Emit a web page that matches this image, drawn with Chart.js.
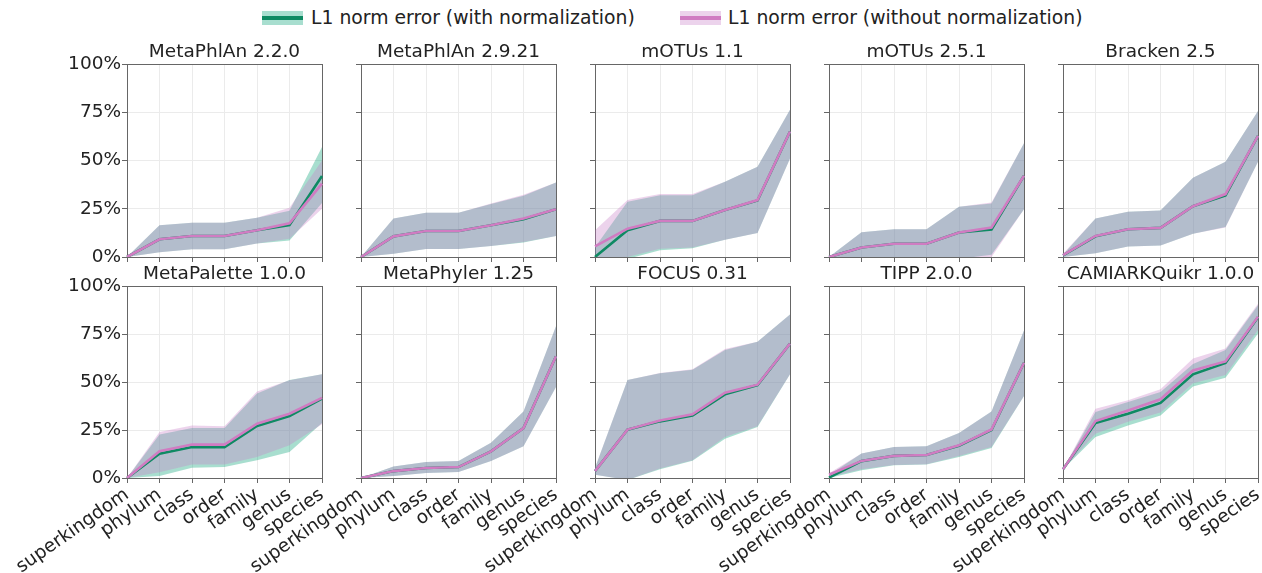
<!DOCTYPE html>
<html>
<head>
<meta charset="utf-8">
<script src="https://cdn.jsdelivr.net/npm/chart.js@4.4.0/dist/chart.umd.min.js"></script>
<style>
  html, body { margin: 0; padding: 0; background: #fff; }
  body { width: 1262px; height: 573px; position: relative; overflow: hidden; font-family: 'DejaVu Sans', sans-serif; color: #222; }
  canvas { position: absolute; }
  .swatch { position: absolute; width: 41px; height: 14px; }
  .swatch i { position: absolute; left: 0; right: 0; top: 5px; height: 4px; }
  .ltext { position: absolute; font-size: 18.8px; line-height: 22px; white-space: nowrap; }
</style>
</head>
<body>
<div class="swatch" style="left:262px;top:11px;background:rgba(0,158,115,0.34)"><i style="background:#0f8a63"></i></div>
<div class="ltext" style="left:311px;top:7px">L1 norm error (with normalization)</div>
<div class="swatch" style="left:680px;top:11px;background:rgba(200,125,200,0.34)"><i style="background:#d07cc2"></i></div>
<div class="ltext" style="left:728px;top:7px">L1 norm error (without normalization)</div>

<script>
const ranks = ['superkingdom', 'phylum', 'class', 'order', 'family', 'genus', 'species'];
const tools = ['MetaPhlAn 2.2.0', 'MetaPhlAn 2.9.21', 'mOTUs 1.1', 'mOTUs 2.5.1', 'Bracken 2.5',
               'MetaPalette 1.0.0', 'MetaPhyler 1.25', 'FOCUS 0.31', 'TIPP 2.0.0', 'CAMIARKQuikr 1.0.0'];
const yTicks = [0, 25, 50, 75, 100];

// with normalization (percent)
const normMean = [
  [0, 9.2, 10.9, 10.9, 13.9, 16.5, 42],
  [0, 10.7, 13.5, 13.5, 16.5, 19.6, 24.8],
  [0, 13.9, 18.7, 18.7, 24.3, 29.3, 65],
  [0, 4.9, 6.9, 6.9, 12.7, 14.2, 42.1],
  [0.8, 10.7, 14.4, 15.1, 26.3, 31.9, 62.7],
  [0, 12.7, 16.1, 16, 27.1, 32.3, 41.3],
  [0, 3.6, 5.2, 5.7, 13.9, 26, 63.4],
  [3.6, 25.2, 29.5, 32.6, 43.6, 48.4, 70],
  [0.2, 8.8, 11.5, 12, 16.8, 25, 60],
  [4.5, 28.7, 33.5, 39.1, 54, 59.9, 83.7]
];
const normLow = [
  [0, 2.5, 4, 4, 7, 8.5, 28],
  [0, 1.7, 4.2, 4.2, 5.7, 7.5, 10.9],
  [-5, -1, 3.5, 4.5, 9, 12.5, 51],
  [0, -3, -1, -1, -1, 1.2, 24.8],
  [0, 2, 5.5, 6, 12, 15.6, 49.4],
  [0, 1, 5.4, 5.7, 9.2, 13.5, 28.6],
  [0, 1, 2.6, 3.1, 8.9, 16.5, 47.4],
  [1.7, -1, 4.5, 9, 20.5, 26.5, 54],
  [0, 4, 6.6, 7, 11, 15.6, 42.7],
  [4.5, 21.4, 27.4, 32.6, 47.6, 52.2, 75.3]
];
const normHigh = [
  [0, 16.5, 17.7, 17.7, 20.3, 24, 57],
  [0, 19.9, 22.9, 22.9, 27.5, 31.8, 38.6],
  [5, 28.6, 32, 32, 39, 46.8, 76.3],
  [0, 12.8, 14.4, 14.4, 26, 27.7, 58.9],
  [1.2, 19.9, 23.4, 24.1, 41, 49.4, 75.7],
  [0, 22.6, 26, 26, 44, 51, 54],
  [0, 6, 8.3, 8.9, 18.4, 34.7, 79],
  [5.2, 51, 54.5, 56.4, 66.7, 71, 85.2],
  [1.5, 12.7, 16.1, 16.5, 23.4, 34.7, 76.8],
  [4.5, 34.4, 39.6, 44.8, 59.4, 66.7, 90]
];

// without normalization (percent)
const rawMean = [
  [0, 9.2, 10.9, 10.9, 13.9, 17.5, 38],
  [0, 10.7, 13.5, 13.5, 16.5, 19.9, 24.8],
  [5.5, 14.7, 18.7, 18.7, 24.3, 29.5, 65],
  [0, 4.9, 6.9, 6.9, 12.7, 15.3, 42.1],
  [1, 10.9, 14.4, 15.1, 26.3, 32.6, 62.7],
  [0, 13.9, 17.4, 17.4, 28.3, 33.5, 41.7],
  [0, 3.6, 5.2, 5.7, 13.9, 26, 63.4],
  [3.6, 25.2, 30, 33.2, 44.4, 48.6, 70],
  [1.7, 8.9, 11.5, 12, 17, 25.3, 60],
  [4.5, 29.7, 35.2, 41, 56, 60.7, 84]
];
const rawLow = [
  [0, 2.5, 4, 4, 7, 9.5, 25],
  [0, 1.7, 4.2, 4.2, 5.7, 7.8, 10.9],
  [-3, 0, 4.3, 4.9, 9, 12.5, 51],
  [0, -3, -1, -1, -1, 0, 24.8],
  [0, 2, 5.5, 6, 12, 15.3, 49.4],
  [0, 3, 7, 7, 11, 17, 28],
  [0, 1, 2.6, 3.1, 8.9, 16.5, 47.4],
  [1.7, -1, 5, 9.2, 21.4, 27, 54],
  [0.5, 4.5, 6.8, 7.2, 11.5, 16.1, 42.7],
  [4.5, 23.1, 29.3, 34.1, 49.3, 53.6, 77.1]
];
const rawHigh = [
  [0, 16.5, 17.7, 17.7, 20.3, 25.5, 50],
  [0, 19.9, 22.9, 22.9, 27.7, 32.2, 38.6],
  [13.9, 29.5, 32.6, 32.6, 39, 46.8, 76.3],
  [0, 12.8, 14.4, 14.4, 26, 28.2, 58.9],
  [1.7, 19.9, 23.4, 24.1, 41, 49.4, 75.7],
  [0, 24, 27.4, 27, 45, 50.9, 54],
  [0, 6, 8.3, 8.9, 18.4, 34.7, 79],
  [5.4, 51, 54.7, 56.6, 67.2, 71, 85.2],
  [2.5, 12.7, 16.1, 16.5, 23.4, 34.7, 76.8],
  [4.5, 36.1, 40.5, 46.2, 62.2, 67.4, 90.8]
];

const GREEN = '#0f8a63', GREEN_FILL = 'rgba(0,158,115,0.34)';
const PINK = '#d07cc2', PINK_FILL = 'rgba(200,125,200,0.34)';
const FONT = { family: 'DejaVu Sans', size: 18.5 };
const SPINE = '#666', GRID = '#ebebeb';

// panel geometry (plot area)
const colLeft = [127, 361, 595, 829, 1063];
const rowTop = [64, 286];
const plotW = 195, plotH = [193, 192];
const LEFT_EXT = 130, Y_W = 60, RIGHT_EXT = 6, TITLE_H = 28, X_H = 100;

function band(data, fill) {
  return { data, borderColor: 'rgba(0,0,0,0)', borderWidth: 0, backgroundColor: fill,
           fill: fill ? '+1' : false, pointRadius: 0, tension: 0 };
}
function line(data, color) {
  return { data, borderColor: color, borderWidth: 2.6, pointRadius: 0, fill: false, tension: 0 };
}

tools.forEach((name, i) => {
  const r = Math.floor(i / 5), c = i % 5;
  const canvas = document.createElement('canvas');
  const w = LEFT_EXT + plotW + RIGHT_EXT, h = TITLE_H + plotH[r] + X_H;
  canvas.width = w; canvas.height = h;
  canvas.style.left = (colLeft[c] - LEFT_EXT) + 'px';
  canvas.style.top = (rowTop[r] - TITLE_H) + 'px';
  canvas.style.width = w + 'px'; canvas.style.height = h + 'px';
  document.body.appendChild(canvas);

  new Chart(canvas.getContext('2d'), {
    type: 'line',
    data: {
      labels: ranks,
      datasets: [
        line(rawMean[i], PINK),
        line(normMean[i], GREEN),
        band(rawHigh[i], PINK_FILL),
        band(rawLow[i], null),
        band(normHigh[i], GREEN_FILL),
        band(normLow[i], null)
      ]
    },
    options: {
      responsive: false,
      animation: false,
      events: [],
      layout: { padding: { left: LEFT_EXT - Y_W, right: RIGHT_EXT, top: 0, bottom: 0 } },
      plugins: {
        legend: { display: false },
        tooltip: { enabled: false },
        filler: { drawTime: 'beforeDatasetsDraw' },
        title: {
          display: true, text: name, fullSize: false, color: '#222',
          font: { family: 'DejaVu Sans', size: 18.5, weight: 'normal', lineHeight: '22px' },
          padding: { top: 5, bottom: 1 }
        }
      },
      scales: {
        x: {
          type: 'category',
          offset: false,
          grid: {
            color: ctx => ctx.index === ranks.length - 1 ? SPINE : GRID,
            tickColor: SPINE, tickLength: 5, offset: false
          },
          border: { display: true, color: SPINE, width: 1 },
          ticks: {
            display: r === 1, autoSkip: false, minRotation: 35, maxRotation: 35,
            font: FONT, color: '#222', padding: 1
          },
          afterFit: s => { s.height = X_H; s.paddingLeft = 0; s.paddingRight = 0; }
        },
        y: {
          min: 0, max: 100,
          afterBuildTicks: s => { s.ticks = yTicks.map(v => ({ value: v })); },
          grid: {
            color: ctx => ctx.tick && ctx.tick.value === 100 ? SPINE : GRID,
            tickColor: SPINE, tickLength: 5
          },
          border: { display: true, color: SPINE, width: 1 },
          ticks: {
            display: c === 0, font: FONT, color: '#222', padding: 1,
            callback: v => v + '%'
          },
          afterFit: s => { s.width = Y_W; s.paddingTop = 0; s.paddingBottom = 0; }
        }
      }
    }
  });
});
</script>
</body>
</html>
